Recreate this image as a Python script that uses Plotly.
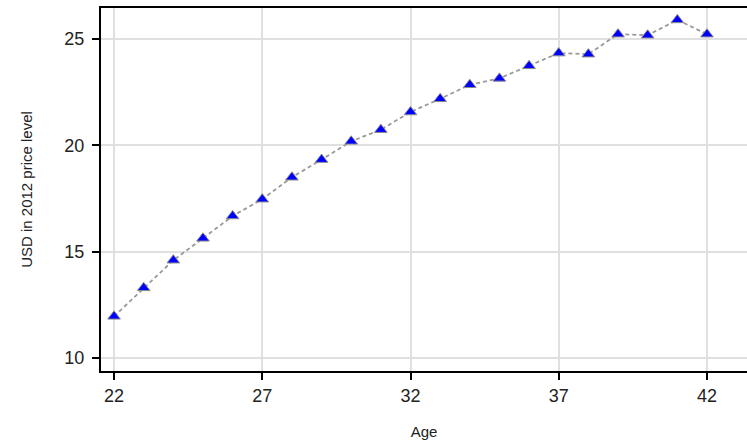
import plotly.graph_objects as go

ages = list(range(22, 43))
usd = [11.96, 13.3, 14.6, 15.63, 16.68, 17.47, 18.5, 19.33, 20.19, 20.74, 21.57,
       22.19, 22.85, 23.15, 23.74, 24.34, 24.29, 25.23, 25.18, 25.9, 25.23]
x_ticks = [22, 27, 32, 37, 42]
y_ticks = [10, 15, 20, 25]

fig = go.Figure()
fig.add_trace(go.Scatter(
    x=ages, y=usd, mode="lines+markers",
    line=dict(color="#999999", width=1.8, dash="4px,3px"),
    marker=dict(symbol="triangle-up", size=11, color="#0000ff",
                line=dict(color="#8c8c8c", width=1)),
    showlegend=False,
))

fig.update_layout(
    width=747, height=445,
    margin=dict(l=101, r=0, t=8, b=74),
    paper_bgcolor="white", plot_bgcolor="white",
    font=dict(family="Liberation Sans, Arial, sans-serif", color="#222"),
    xaxis=dict(
        range=[21.56, 43.35], tickvals=x_ticks,
        showgrid=True, gridcolor="#e0e0e0", gridwidth=1.5,
        showline=True, linecolor="black", linewidth=2, mirror=True,
        ticks="outside", ticklen=7, tickcolor="black", tickwidth=1.5,
        tickfont=dict(size=18), zeroline=False,
        title=dict(text="Age", font=dict(size=15), standoff=22),
    ),
    yaxis=dict(
        range=[9.39, 26.46], tickvals=y_ticks,
        showgrid=True, gridcolor="#e0e0e0", gridwidth=1.5,
        showline=True, linecolor="black", linewidth=2,
        ticks="outside", ticklen=7, tickcolor="black", tickwidth=1.5,
        ticklabelstandoff=4,
        tickfont=dict(size=18), zeroline=False,
        title=dict(text="USD in 2012 price level", font=dict(size=15), standoff=28),
    ),
)

fig.write_html("out.html")
